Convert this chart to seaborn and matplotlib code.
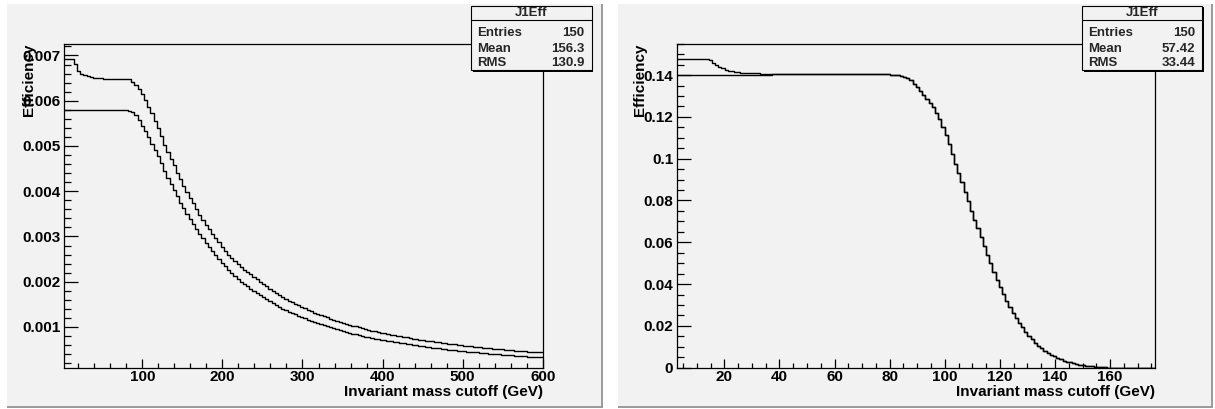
import numpy as np
import pandas as pd
import matplotlib
matplotlib.use("Agg")
import matplotlib.pyplot as plt
from matplotlib.patches import Rectangle
from matplotlib.lines import Line2D
from matplotlib.ticker import MultipleLocator, FormatStrFormatter
import seaborn as sns

# ---- data (150 bins per histogram) ----
left_range = (2.5, 600.0)
right_range = (2.72, 176.3)
n_bins = 150

left_upper = [
    0.00693, 0.00693, 0.00693, 0.00682, 0.00666, 0.00660, 0.00657, 0.00654, 0.00652, 0.00651,
    0.00650, 0.00650, 0.00649, 0.00649, 0.00649, 0.00649, 0.00649, 0.00649, 0.00649, 0.00648,
    0.00647, 0.00642, 0.00634, 0.00625, 0.00615, 0.00602, 0.00587, 0.00573, 0.00556, 0.00540,
    0.00522, 0.00503, 0.00487, 0.00472, 0.00457, 0.00441, 0.00426, 0.00412, 0.00398, 0.00386,
    0.00374, 0.00361, 0.00348, 0.00337, 0.00326, 0.00316, 0.00306, 0.00296, 0.00287, 0.00277,
    0.00268, 0.00260, 0.00252, 0.00245, 0.00239, 0.00233, 0.00227, 0.00222, 0.002170, 0.002113,
    0.002057, 0.002002, 0.001949, 0.001897, 0.001847, 0.001798, 0.001750, 0.001704, 0.001659, 0.001621,
    0.001583, 0.001547, 0.001511, 0.001476, 0.001442, 0.001409, 0.001377, 0.001345, 0.001314, 0.001287,
    0.001261, 0.001236, 0.001211, 0.001186, 0.001162, 0.001139, 0.001116, 0.001093, 0.001071, 0.001051,
    0.001031, 0.001011, 0.000992, 0.000973, 0.000955, 0.000936, 0.000919, 0.000901, 0.000884, 0.000870,
    0.000857, 0.000843, 0.000830, 0.000817, 0.000805, 0.000792, 0.000780, 0.000768, 0.000756, 0.000745,
    0.000733, 0.000722, 0.000712, 0.000701, 0.000690, 0.000680, 0.000670, 0.000660, 0.000650, 0.000641,
    0.000632, 0.000624, 0.000615, 0.000607, 0.000598, 0.000590, 0.000582, 0.000574, 0.000566, 0.000559,
    0.000552, 0.000545, 0.000538, 0.000531, 0.000524, 0.000517, 0.000511, 0.000504, 0.000498, 0.000492,
    0.000486, 0.000480, 0.000475, 0.000469, 0.000464, 0.000458, 0.000453, 0.000447, 0.000442, 0.000437,
]

left_lower = [
    0.00580, 0.00580, 0.00580, 0.00580, 0.00580, 0.00580, 0.00580, 0.00580, 0.00580, 0.00580,
    0.00580, 0.00580, 0.00580, 0.00580, 0.00580, 0.00580, 0.00580, 0.00580, 0.00580, 0.00580,
    0.00578, 0.00575, 0.00568, 0.00557, 0.00545, 0.00533, 0.00519, 0.00505, 0.00491, 0.00478,
    0.00462, 0.00445, 0.00429, 0.00415, 0.00402, 0.00389, 0.00375, 0.00362, 0.00350, 0.00339,
    0.00328, 0.00317, 0.00306, 0.00296, 0.00286, 0.00277, 0.00268, 0.00259, 0.00250, 0.00242,
    0.00234, 0.00226, 0.00219, 0.00212, 0.00206, 0.00200, 0.00195, 0.00190, 0.001850, 0.001800,
    0.001751, 0.001704, 0.001658, 0.001613, 0.001570, 0.001527, 0.001486, 0.001446, 0.001407, 0.001374,
    0.001341, 0.001309, 0.001278, 0.001248, 0.001218, 0.001189, 0.001161, 0.001134, 0.001107, 0.001083,
    0.001060, 0.001037, 0.001015, 0.000993, 0.000972, 0.000951, 0.000930, 0.000910, 0.000891, 0.000873,
    0.000855, 0.000838, 0.000821, 0.000805, 0.000789, 0.000773, 0.000757, 0.000742, 0.000727, 0.000715,
    0.000703, 0.000691, 0.000679, 0.000668, 0.000657, 0.000646, 0.000635, 0.000624, 0.000614, 0.000604,
    0.000593, 0.000583, 0.000573, 0.000564, 0.000554, 0.000545, 0.000535, 0.000526, 0.000517, 0.000509,
    0.000501, 0.000494, 0.000486, 0.000479, 0.000471, 0.000464, 0.000457, 0.000450, 0.000443, 0.000437,
    0.000430, 0.000424, 0.000418, 0.000412, 0.000406, 0.000400, 0.000394, 0.000389, 0.000383, 0.000378,
    0.000372, 0.000367, 0.000362, 0.000356, 0.000351, 0.000346, 0.000341, 0.000336, 0.000331, 0.000327,
]

right_upper = [
    0.1475, 0.1475, 0.1475, 0.1475, 0.1475, 0.1475, 0.1475, 0.1475, 0.1475, 0.1475,
    0.1470, 0.1460, 0.1449, 0.1440, 0.1432, 0.1426, 0.1421, 0.1418, 0.1416, 0.1414,
    0.1412, 0.1411, 0.1410, 0.1409, 0.1408, 0.1408, 0.1407, 0.1407, 0.1406, 0.1406,
    0.1405, 0.1405, 0.1405, 0.1405, 0.1405, 0.1405, 0.1405, 0.1405, 0.1405, 0.1405,
    0.1405, 0.1405, 0.1405, 0.1405, 0.1405, 0.1405, 0.1404, 0.1404, 0.1404, 0.1404,
    0.1404, 0.1404, 0.1404, 0.1404, 0.1404, 0.1404, 0.1404, 0.1404, 0.1404, 0.1404,
    0.1404, 0.1404, 0.1404, 0.1404, 0.1404, 0.1403, 0.1403, 0.1402, 0.1401, 0.1399,
    0.1396, 0.1391, 0.1385, 0.1374, 0.1359, 0.1341, 0.1322, 0.1303, 0.1284, 0.1266,
    0.1246, 0.1220, 0.1189, 0.1152, 0.1112, 0.1069, 0.1022, 0.0975, 0.0930, 0.0887,
    0.0842, 0.0796, 0.0751, 0.0708, 0.0666, 0.0624, 0.0583, 0.0541, 0.0499, 0.0459,
    0.0421, 0.0385, 0.0351, 0.0320, 0.0291, 0.0264, 0.0239, 0.0215, 0.0193, 0.0173,
    0.0154, 0.0136, 0.0120, 0.0106, 0.0094, 0.0082, 0.0072, 0.0063, 0.0054, 0.0047,
    0.0040, 0.0034, 0.0029, 0.0025, 0.0021, 0.0018, 0.0015, 0.0012, 0.0010, 0.0008,
    0.0006, 0.0005, 0.0003, 0.0002, 0.0001, 0.00005, 0.0, 0.0, 0.0, 0.0,
    0.0, 0.0, 0.0, 0.0, 0.0, 0.0, 0.0, 0.0, 0.0, 0.0,
]

# the lower curve sits at 0.140 and then coincides with the upper one
right_lower = [0.1400] * 30 + right_upper[30:]

stats_left = {"title": "J1Eff", "Entries": "150", "Mean": "156.3", "RMS": "130.9"}
stats_right = {"title": "J1Eff", "Entries": "150", "Mean": "57.42", "RMS": "33.44"}

x_label = "Invariant mass cutoff (GeV)"
y_label = "Efficiency"

# ---- style ----
W, H = 1215, 409
PAD = "#f2f2f2"
SHADOW = "#9c9c9c"

sns.set_theme(style="ticks")
plt.rcParams["font.family"] = ["Liberation Sans", "DejaVu Sans"]
plt.rcParams["font.weight"] = "bold"
plt.rcParams["axes.labelweight"] = "bold"

fig = plt.figure(figsize=(W / 100, H / 100), dpi=100, facecolor="white")


def px_rect(x0, y0, x1, y1, **kw):
    return Rectangle((x0 / W, 1 - y1 / H), (x1 - x0) / W, (y1 - y0) / H,
                     transform=fig.transFigure, **kw)


def draw_pad(x0, y0, x1, y1):
    fig.add_artist(px_rect(x0, y0, x1, y1, facecolor=SHADOW, edgecolor="none", zorder=-3))
    fig.add_artist(px_rect(x0, y0, x1 - 2, y1 - 2, facecolor=PAD, edgecolor="none", zorder=-2))


def draw_stats(x0, x1, st):
    y0, y1 = 6, 70
    fig.add_artist(px_rect(x0 + 1.5, y0 + 1.5, x1 + 1.5, y1 + 1.5, facecolor="black",
                           edgecolor="none", zorder=5))
    fig.add_artist(px_rect(x0, y0, x1, y1, facecolor=PAD, edgecolor="black",
                           linewidth=0.8, zorder=6))
    fig.add_artist(Line2D([x0 / W, x1 / W], [1 - 19.5 / H, 1 - 19.5 / H], color="black",
                          linewidth=0.8, transform=fig.transFigure, zorder=7))
    fig.text((x0 + x1) / 2 / W, 1 - 16.5 / H, st["title"], ha="center", va="baseline",
             fontsize=9.5, zorder=8)
    for key, base in (("Entries", 36.5), ("Mean", 51.5), ("RMS", 66.5)):
        fig.text((x0 + 6) / W, 1 - base / H, key, ha="left", va="baseline", fontsize=9.5, zorder=8)
        fig.text((x1 - 7) / W, 1 - base / H, st[key], ha="right", va="baseline", fontsize=9.5,
                 zorder=8)


def draw_hist(ax, lo, hi, values):
    edges = np.linspace(lo, hi, n_bins + 1)
    df = pd.DataFrame({"x": 0.5 * (edges[:-1] + edges[1:]), "w": values})
    sns.histplot(data=df, x="x", weights="w", bins=n_bins, binrange=(lo, hi),
                 element="step", fill=False, color="black", linewidth=1.0, ax=ax)


def style_axes(ax, xlim, ylim, xmaj, xmin, ymaj, ymin, yfmt, ylab_x):
    ax.set_facecolor(PAD)
    ax.set_xlim(*xlim)
    ax.set_ylim(*ylim)
    for s in ax.spines.values():
        s.set_visible(True)
        s.set_color("black")
        s.set_linewidth(0.9)
    ax.xaxis.set_major_locator(MultipleLocator(xmaj))
    ax.xaxis.set_minor_locator(MultipleLocator(xmin))
    ax.yaxis.set_major_locator(MultipleLocator(ymaj))
    ax.yaxis.set_minor_locator(MultipleLocator(ymin))
    ax.xaxis.set_major_formatter(FormatStrFormatter("%g"))
    ax.yaxis.set_major_formatter(FormatStrFormatter(yfmt))
    ax.tick_params(axis="both", which="both", direction="in", colors="black",
                   labelsize=11, width=0.9, top=False, right=False)
    ax.tick_params(axis="y", which="major", length=10.4, pad=2.4)
    ax.tick_params(axis="y", which="minor", length=5.2)
    ax.tick_params(axis="x", which="major", length=6.7, pad=2.0)
    ax.tick_params(axis="x", which="minor", length=3.3)
    for lab in ax.get_xticklabels() + ax.get_yticklabels():
        lab.set_fontweight("bold")
    ax.set_xlabel(x_label, loc="right", fontsize=11, fontweight="bold", color="black")
    ax.xaxis.set_label_coords(1.0, -0.053)
    ax.set_ylabel(y_label, loc="top", fontsize=11, fontweight="bold", color="black")
    ax.yaxis.set_label_coords(ylab_x, 1.0)
    ax.grid(False)


draw_pad(7, 4, 603, 408)
draw_pad(618, 4, 1213, 408)

ax_bottom, ax_top = 367.7, 43.7
ax1 = fig.add_axes([64.3 / W, 1 - ax_bottom / H, (542.7 - 64.3) / W, (ax_bottom - ax_top) / H])
ax2 = fig.add_axes([676.7 / W, 1 - ax_bottom / H, (1155.0 - 676.7) / W, (ax_bottom - ax_top) / H])

draw_hist(ax1, *left_range, left_upper)
draw_hist(ax1, *left_range, left_lower)
style_axes(ax1, left_range, (0.0001, 0.00726), 100, 20, 0.001, 0.0002, "%.3f", -0.0585)

draw_hist(ax2, *right_range, right_upper)
draw_hist(ax2, *right_range, right_lower)
style_axes(ax2, right_range, (0.0, 0.155), 20, 5, 0.02, 0.005, "%g", -0.063)

draw_stats(471, 591.7, stats_left)
draw_stats(1082.3, 1202.3, stats_right)

fig.savefig("out.png", dpi=100, facecolor="white")
